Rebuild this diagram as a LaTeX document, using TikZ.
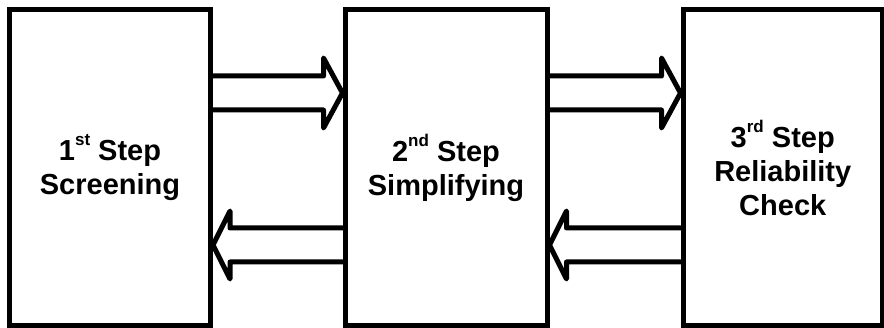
\documentclass[tikz,border=0pt]{standalone}
\usepackage{fontspec}
\setmainfont{Liberation Sans}
\usetikzlibrary{calc}
\newcommand{\supr}[1]{\raisebox{15pt}{\fontsize{17}{17}\selectfont #1}}
\tikzset{
  stepbox/.style={draw, line width=5pt, minimum width=201pt, minimum height=316.5pt,
    inner sep=0pt, align=center, font=\bfseries\fontsize{29}{34}\selectfont},
  rarrow/.style={line width=5pt, line join=round, line cap=round,
    to path={let \p1=(\tikztostart), \p2=(\tikztotarget) in
      (\x1,\y1+17pt) -- (\x2-19pt,\y1+17pt) -- (\x2-19pt,\y1+35pt) -- (\x2,\y1)
      -- (\x2-19pt,\y1-35pt) -- (\x2-19pt,\y1-17pt) -- (\x1,\y1-17pt)}},
  larrow/.style={line width=5pt, line join=round, line cap=round,
    to path={let \p1=(\tikztostart), \p2=(\tikztotarget) in
      (\x1,\y1+17pt) -- (\x2+17pt,\y1+17pt) -- (\x2+17pt,\y1+34pt) -- (\x2,\y1)
      -- (\x2+17pt,\y1-34pt) -- (\x2+17pt,\y1-17pt) -- (\x1,\y1-17pt)}}
}
\begin{document}
\begin{tikzpicture}[x=1pt,y=-1pt]
  \fill[white] (0,0) rectangle (884,328);
  \useasboundingbox (0,0) rectangle (884,328);
  \node[stepbox] (b1) at (110,167.75) {1\supr{st} Step\\Screening};
  \node[stepbox, minimum width=202pt] (b2) at (446,167.75) {2\supr{nd} Step\\Simplifying};
  \node[stepbox, minimum width=199.5pt] (b3) at (782.75,167.5) {3\supr{rd} Step\\Reliability\\Check};
  \coordinate (r1) at (0,93);
  \coordinate (l1) at (0,245);
  \draw[rarrow] (b1.east |- r1) to (b2.west |- r1);
  \draw[larrow] (b2.west |- l1) to (b1.east |- l1);
  \draw[rarrow] (b2.east |- r1) to (b3.west |- r1);
  \draw[larrow] (b3.west |- l1) to (b2.east |- l1);
\end{tikzpicture}
\end{document}
